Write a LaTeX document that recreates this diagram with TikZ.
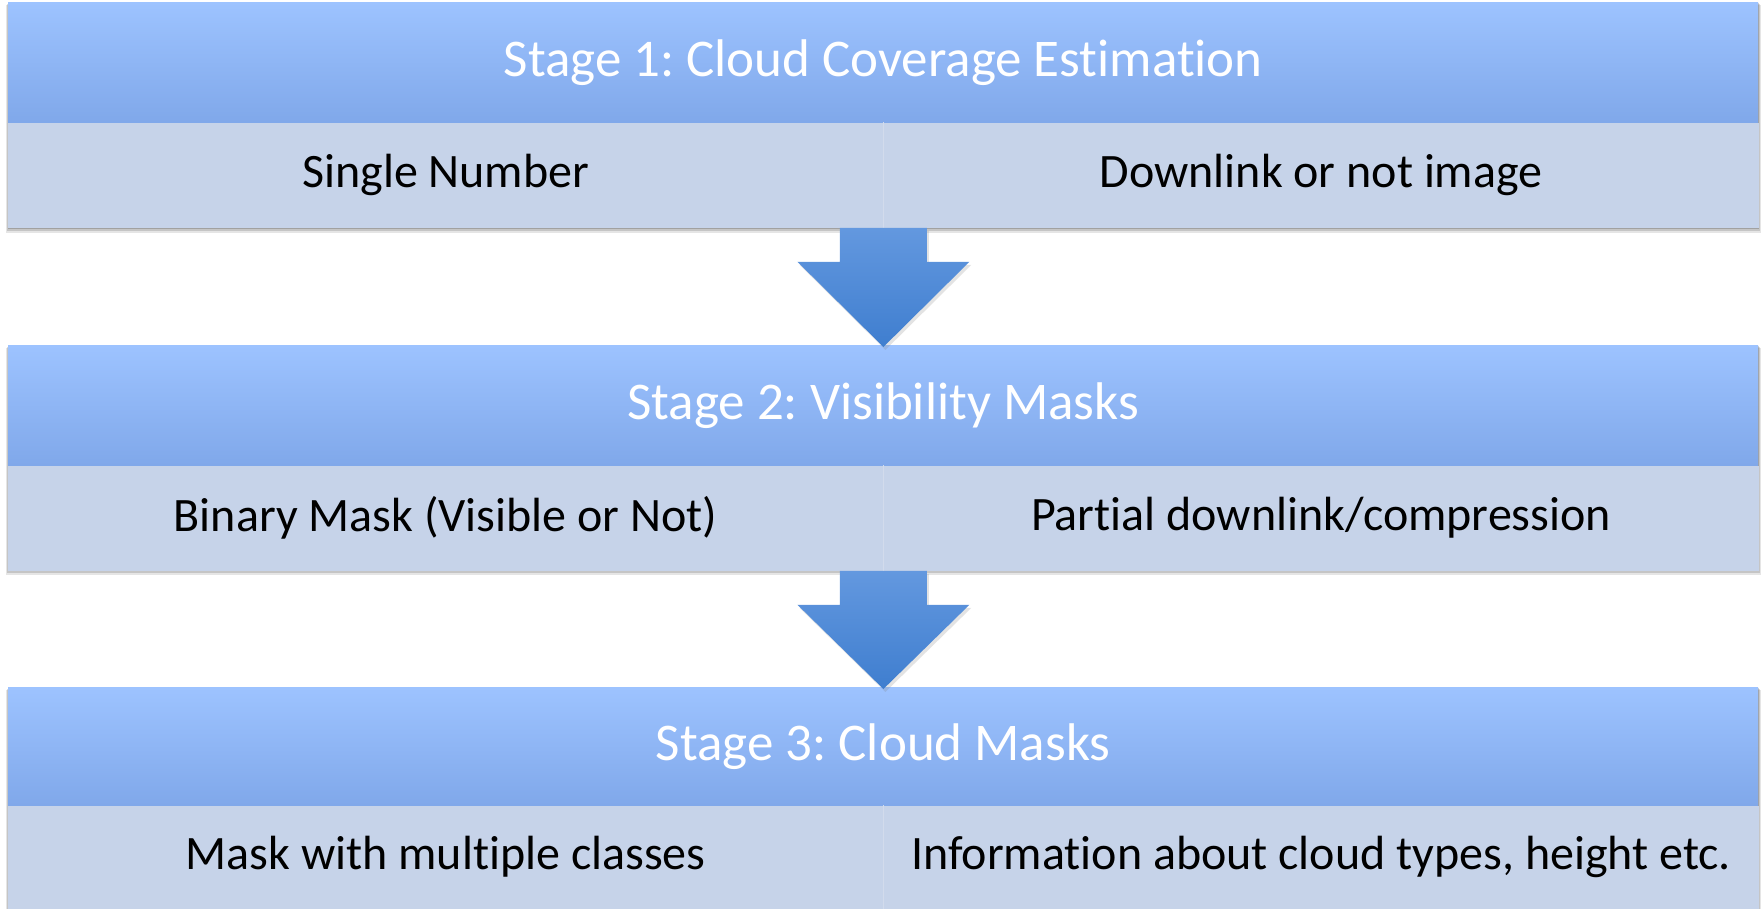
\documentclass[tikz,border=0pt]{standalone}
\usepackage{fontspec}
\setmainfont{Carlito}[Ligatures={NoCommon}]
\frenchspacing
\usetikzlibrary{calc,shadows}

\definecolor{hdrtop}{HTML}{9DC3FF}
\definecolor{hdrmid}{HTML}{94BAFA}
\definecolor{hdrbot}{HTML}{80A8EA}
\definecolor{cellfill}{HTML}{C6D3E9}
\definecolor{cellline}{HTML}{D2DBEC}
\definecolor{arrtop}{HTML}{6398DF}
\definecolor{arrbot}{HTML}{3F7ECF}

\tikzset{
  hdr/.style={rectangle, inner sep=0pt, anchor=north west,
    minimum width=1750pt, minimum height=120pt,
    top color=hdrtop, middle color=hdrmid, bottom color=hdrbot,
    text=white, font=\fontsize{53}{60}\selectfont},
  cell/.style={rectangle, inner sep=0pt, anchor=north west,
    minimum width=875pt, minimum height=105pt, fill=cellfill,
    text=black, font=\fontsize{48}{56}\selectfont},
  divider/.style={draw=cellline, line width=1.2pt},
  blockshadow/.style={fill=black, opacity=#1},
  flowarrow/.style={top color=arrtop, bottom color=arrbot,
    drop shadow={opacity=0.22, shadow xshift=2pt, shadow yshift=-3pt}},
}

\begin{document}
\begin{tikzpicture}[x=1pt,y=1pt]
\useasboundingbox (0,0) rectangle (1764,909);

% soft shadows under the three stage blocks
\foreach \t/\b in {907/681, 564/339, 222/1}{
  \fill[blockshadow=0.10] (6,\t-3) rectangle (1761,\b-5);
  \fill[blockshadow=0.14] (7,\t-2) rectangle (1760,\b-3);
  \fill[blockshadow=0.18] (8,\t-1) rectangle (1759,\b-1.5);
}

% stage 1
\node[hdr] (h1) at (8,907) {Stage 1: Cloud Coverage Estimation};
\node[cell] (a1) at (h1.south west) {Single Number};
\node[cell] (b1) at (a1.north east) {Downlink or not image};
\draw[divider] (a1.north east) -- (a1.south east);

% stage 2
\node[hdr] (h2) at (8,564) {Stage 2: Visibility Masks};
\node[cell] (a2) at (h2.south west) {Binary Mask (Visible or Not)};
\node[cell] (b2) at (a2.north east) {Partial downlink/compression};
\draw[divider] (a2.north east) -- (a2.south east);

% stage 3
\node[hdr, minimum height=118pt] (h3) at (8,222) {Stage 3: Cloud Masks};
\node[cell, minimum height=103pt] (a3) at (h3.south west) {Mask with multiple classes};
\node[cell, minimum height=103pt] (b3) at (a3.north east) {Information about cloud types, height etc.};
\draw[divider] (a3.north east) -- (a3.south east);

% block arrows between the stages
\foreach \u/\l in {a1/h2, a2/h3}{
  \path[flowarrow]
    ([xshift=-43.5pt]\u.south east) -- ([xshift=43.5pt]\u.south east)
    -- ([xshift=43.5pt,yshift=-34pt]\u.south east)
    -- ([xshift=86pt,yshift=-34pt]\u.south east)
    -- ([yshift=-2pt]\l.north west -| \u.south east)
    -- ([xshift=-86pt,yshift=-34pt]\u.south east)
    -- ([xshift=-43.5pt,yshift=-34pt]\u.south east) -- cycle;
}
\end{tikzpicture}
\end{document}
